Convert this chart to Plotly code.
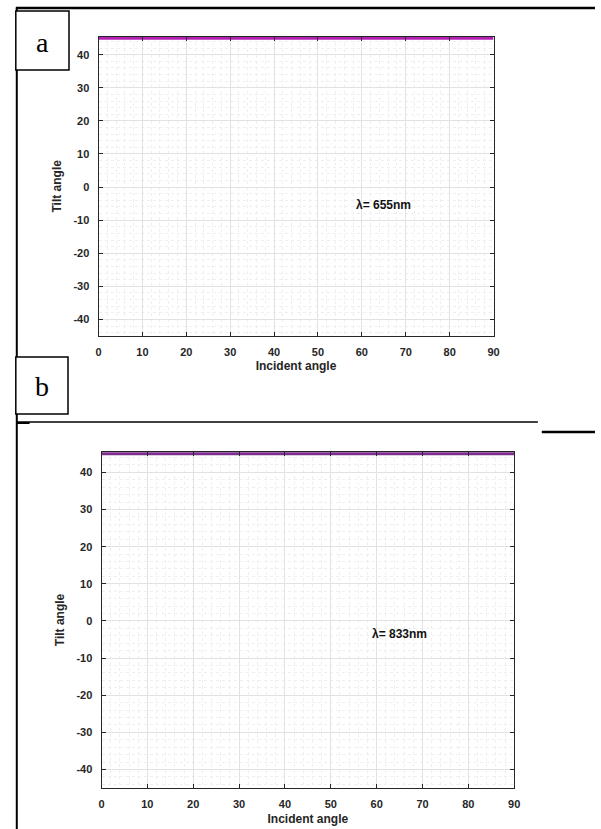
import plotly.graph_objects as go

# ---- data ----
incident_angle = [0, 10, 20, 30, 40, 50, 60, 70, 80, 90]
tilt_655 = [45, 45, 45, 45, 45, 45, 45, 45, 45, 45]
tilt_833 = [45, 45, 45, 45, 45, 45, 45, 45, 45, 45]
x_ticks = [0, 10, 20, 30, 40, 50, 60, 70, 80, 90]
y_ticks = [-40, -30, -20, -10, 0, 10, 20, 30, 40]
panel_labels = ["a", "b"]
wavelength_labels = ["λ= 655nm", "λ= 833nm"]
wavelength_pos = [(65, -5.5), (65, -3.5)]

W, H = 601, 829


def px(x):
    return x / W


def py(y):
    return 1 - y / H


fig = go.Figure()
fig.add_trace(go.Scatter(x=incident_angle, y=tilt_655, mode="lines",
                         line=dict(color="#b41fb4", width=3),
                         xaxis="x", yaxis="y", showlegend=False))
fig.add_trace(go.Scatter(x=incident_angle, y=tilt_833, mode="lines",
                         line=dict(color="#7e2f8e", width=3),
                         xaxis="x2", yaxis="y2", showlegend=False))

tickfont = dict(family="Liberation Sans, Arial, sans-serif", size=11,
                color="#262626", weight="bold")
titlefont = dict(family="Liberation Sans, Arial, sans-serif", size=12,
                 color="#262626", weight="bold")


def xaxis(domain, anchor, standoff):
    return dict(domain=domain, anchor=anchor, range=[0, 90],
                tickvals=x_ticks, ticktext=[str(v) for v in x_ticks],
                ticks="inside", ticklen=4, tickcolor="#262626",
                showline=True, linecolor="#262626", linewidth=1,
                mirror="ticks", showgrid=True, gridcolor="#e2e2e2",
                gridwidth=1, zeroline=False, tickfont=tickfont,
                ticklabelstandoff=6,
                minor=dict(dtick=2, tick0=0, showgrid=True,
                           gridcolor="#efefef", griddash="dot", ticks=""),
                title=dict(text="Incident angle", font=titlefont,
                           standoff=standoff),
                fixedrange=True)


def yaxis(domain, anchor):
    return dict(domain=domain, anchor=anchor, range=[-45, 45.5],
                tickvals=y_ticks, ticktext=[str(v) for v in y_ticks],
                ticks="inside", ticklen=4, tickcolor="#262626",
                showline=True, linecolor="#262626", linewidth=1,
                mirror="ticks", showgrid=True, gridcolor="#e2e2e2",
                gridwidth=1, zeroline=False, tickfont=tickfont,
                ticklabelstandoff=6,
                minor=dict(dtick=2, tick0=0, showgrid=True,
                           gridcolor="#efefef", griddash="dot", ticks=""),
                title=dict(text="Tilt angle", font=titlefont, standoff=9),
                fixedrange=True)


fig.update_layout(
    width=W, height=H,
    margin=dict(l=0, r=0, t=0, b=0),
    paper_bgcolor="white", plot_bgcolor="white",
    xaxis=xaxis([px(97), px(498)], "y", 4),
    yaxis=yaxis([py(336), py(36.5)], "x"),
    xaxis2=xaxis([px(100), px(519)], "y2", 5),
    yaxis2=yaxis([py(788), py(452)], "x2"),
)

# wavelength annotations
for i, (lbl, (ax_x, ax_y)) in enumerate(zip(wavelength_labels, wavelength_pos)):
    suffix = "" if i == 0 else "2"
    fig.add_annotation(x=ax_x, y=ax_y, xref="x" + suffix, yref="y" + suffix,
                       text=lbl, showarrow=False,
                       font=dict(family="Liberation Sans, Arial, sans-serif",
                                 size=12, color="#111111", weight="bold"))

# document table lines
line_black = dict(color="black", width=2.5)
shapes = [
    dict(type="line", xref="paper", yref="paper", x0=px(13), x1=px(601),
         y0=py(8), y1=py(8), line=line_black),
    dict(type="line", xref="paper", yref="paper", x0=px(14), x1=px(14),
         y0=py(8), y1=py(829), line=dict(color="black", width=2)),
    dict(type="line", xref="paper", yref="paper", x0=px(14), x1=px(543),
         y0=py(422), y1=py(422), line=dict(color="black", width=1.5)),
    dict(type="line", xref="paper", yref="paper", x0=px(14), x1=px(27),
         y0=py(423), y1=py(423), line=dict(color="black", width=2)),
    dict(type="line", xref="paper", yref="paper", x0=px(547), x1=px(601),
         y0=py(432), y1=py(432), line=dict(color="black", width=2.5)),
    dict(type="rect", xref="paper", yref="paper", x0=px(13), x1=px(67),
         y0=py(70), y1=py(11), line=dict(color="black", width=1.5),
         fillcolor="white"),
    dict(type="rect", xref="paper", yref="paper", x0=px(13), x1=px(66),
         y0=py(414), y1=py(357), line=dict(color="black", width=1.5),
         fillcolor="white"),
]
fig.update_layout(shapes=shapes)

for lbl, (cx, cy) in zip(panel_labels, [(40, 42), (40, 386)]):
    fig.add_annotation(x=px(cx), y=py(cy), xref="paper", yref="paper",
                       xanchor="center", yanchor="middle",
                       text=lbl, showarrow=False,
                       font=dict(family="Liberation Serif, Times New Roman, serif",
                                 size=28, color="black"))

fig.write_html("out.html", config={"displayModeBar": False},
               post_script="document.body.style.margin='0px';")
